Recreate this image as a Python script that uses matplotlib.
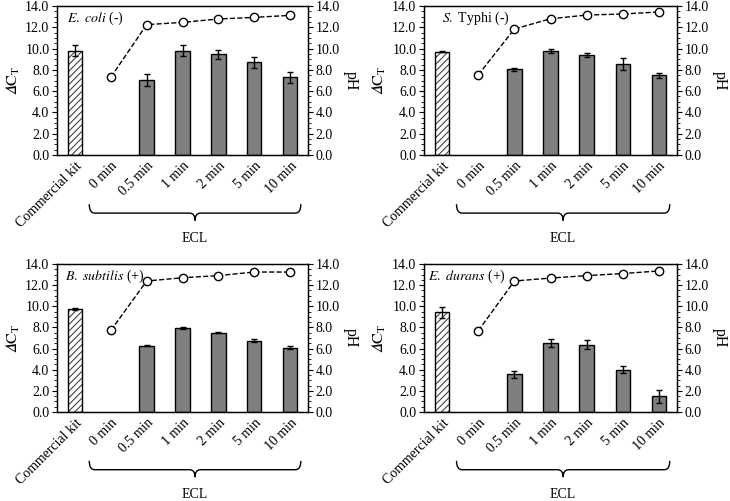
import matplotlib.pyplot as plt
import numpy as np
from matplotlib.path import Path
from matplotlib.patches import PathPatch
from matplotlib.ticker import MultipleLocator
import matplotlib.transforms as mtransforms

plt.rcParams['font.family'] = ['Liberation Serif', 'DejaVu Serif']
plt.rcParams['mathtext.fontset'] = 'stix'
plt.rcParams['hatch.linewidth'] = 0.8

# data
categories = ['Commercial kit', '0 min', '0.5 min', '1 min', '2 min', '5 min', '10 min']
species = [r'$\it{E.}$ $\it{coli}$ (-)', r'$\it{S.}$ Typhi (-)',
           r'$\it{B.}$ $\it{subtilis}$ (+)', r'$\it{E.}$ $\it{durans}$ (+)']

# delta CT (index 1 = 0 min has no bar)
ct_ecoli = [9.8, np.nan, 7.05, 9.8, 9.45, 8.7, 7.3]
ct_styphi = [9.7, np.nan, 8.05, 9.77, 9.43, 8.58, 7.48]
ct_bsub = [9.73, np.nan, 6.29, 7.96, 7.52, 6.76, 6.1]
ct_edur = [9.42, np.nan, 3.57, 6.51, 6.38, 4.01, 1.49]

err_ecoli = [0.5, 0, 0.55, 0.5, 0.4, 0.55, 0.5]
err_styphi = [0.05, 0, 0.15, 0.15, 0.18, 0.55, 0.25]
err_bsub = [0.1, 0, 0.07, 0.07, 0.07, 0.1, 0.15]
err_edur = [0.55, 0, 0.35, 0.35, 0.4, 0.35, 0.6]

# pH for 0 min ... 10 min
ph_ecoli = [7.3, 12.25, 12.46, 12.78, 12.93, 13.12]
ph_styphi = [7.52, 11.84, 12.8, 13.15, 13.25, 13.44]
ph_bsub = [7.71, 12.39, 12.7, 12.9, 13.24, 13.24]
ph_edur = [7.68, 12.39, 12.67, 12.9, 13.1, 13.34]

ct_all = [ct_ecoli, ct_styphi, ct_bsub, ct_edur]
err_all = [err_ecoli, err_styphi, err_bsub, err_edur]
ph_all = [ph_ecoli, ph_styphi, ph_bsub, ph_edur]

W, H = 730, 501
fig = plt.figure(figsize=(W / 100, H / 100), dpi=100)

# axes boxes in pixels: left, right, top, bottom
boxes = [(57, 308, 6, 155), (424, 677, 6, 155),
         (57, 308, 264, 412), (424, 677, 264, 412)]
label_x = [0.04, 0.07, 0.03, 0.015]

fs = 10
x = np.arange(len(categories))

for i in range(4):
    l, r, t, b = boxes[i]
    ax = fig.add_axes([l / W, 1 - b / H, (r - l) / W, (b - t) / H])
    ct = np.array(ct_all[i])
    err = np.array(err_all[i])

    # commercial kit bar (hatched)
    ax.bar(x[0], ct[0], width=0.4, color='white', edgecolor='#444444',
           hatch='/////', linewidth=0, zorder=2)
    ax.bar(x[0], ct[0], width=0.4, color='none', edgecolor='black',
           linewidth=1, zorder=2)
    ax.errorbar(x[0], ct[0], yerr=err[0], fmt='none', ecolor='black',
                elinewidth=1, capsize=2.5, capthick=1, zorder=3)
    # ECL bars
    ax.bar(x[2:], ct[2:], width=0.4, color='#7f7f7f', edgecolor='black',
           linewidth=1, zorder=2)
    ax.errorbar(x[2:], ct[2:], yerr=err[2:], fmt='none', ecolor='black',
                elinewidth=1, capsize=2.5, capthick=1, zorder=3)

    ax.set_xlim(-0.5, 6.5)
    ax.set_ylim(0, 14)
    ax.yaxis.set_major_locator(MultipleLocator(2))
    ax.yaxis.set_minor_locator(MultipleLocator(0.5))
    ax.yaxis.set_major_formatter(plt.FormatStrFormatter('%.1f'))
    ax.tick_params(axis='y', which='major', direction='out', length=3.5,
                   labelsize=fs, pad=2)
    ax.tick_params(axis='y', which='minor', direction='out', length=2)
    ax.tick_params(axis='x', length=0, labelsize=fs, pad=3)
    ax.set_xticks(x)
    ax.set_xticklabels(categories, rotation=45, ha='right', va='top',
                       rotation_mode='anchor')
    ax.set_ylabel('$𝛥\\mathrm{C}_\\mathrm{T}$', fontsize=11.5, va='center')
    ax.yaxis.set_label_coords(-0.175, 0.5)
    for sp in ax.spines.values():
        sp.set_linewidth(1)

    ax.text(label_x[i], 0.915, species[i], transform=ax.transAxes, fontsize=fs,
            ha='left', va='center')

    # pH on right axis
    ax2 = ax.twinx()
    ax2.plot(x[1:], ph_all[i], color='black', linestyle='--', linewidth=1,
             marker='o', markersize=6, markerfacecolor='white',
             markeredgecolor='black', markeredgewidth=1, zorder=4)
    ax2.set_ylim(0, 14)
    ax2.yaxis.set_major_locator(MultipleLocator(2))
    ax2.yaxis.set_minor_locator(MultipleLocator(0.5))
    ax2.yaxis.set_major_formatter(plt.FormatStrFormatter('%.1f'))
    ax2.tick_params(axis='y', which='major', direction='out', length=3.5,
                    labelsize=fs, pad=2)
    ax2.tick_params(axis='y', which='minor', direction='out', length=2)
    ax2.set_ylabel('pH', fontsize=11.5, rotation=270, va='center', ha='center')
    ax2.yaxis.set_label_coords(1.17, 0.5)

    # brace under ECL labels
    trans = mtransforms.blended_transform_factory(ax.transData, ax.transAxes)
    x0, x1, xm = 0.4, 6.3, 3.35
    ya, yl, yb = -0.33, -0.39, -0.44
    dx = 0.15
    verts = [(x0, ya), (x0, yl), (x0 + dx, yl), (xm - dx, yl), (xm, yl), (xm, yb),
             (xm, yb), (xm, yl), (xm + dx, yl), (x1 - dx, yl), (x1, yl), (x1, ya)]
    codes = [Path.MOVETO, Path.CURVE3, Path.CURVE3, Path.LINETO, Path.CURVE3, Path.CURVE3,
             Path.MOVETO, Path.CURVE3, Path.CURVE3, Path.LINETO, Path.CURVE3, Path.CURVE3]
    ax.add_patch(PathPatch(Path(verts, codes), facecolor='none', edgecolor='black',
                           linewidth=1, transform=trans, clip_on=False))
    ax.text(xm, -0.56, 'ECL', transform=trans, ha='center', va='center', fontsize=fs)

fig.savefig('out.png', dpi=100)
